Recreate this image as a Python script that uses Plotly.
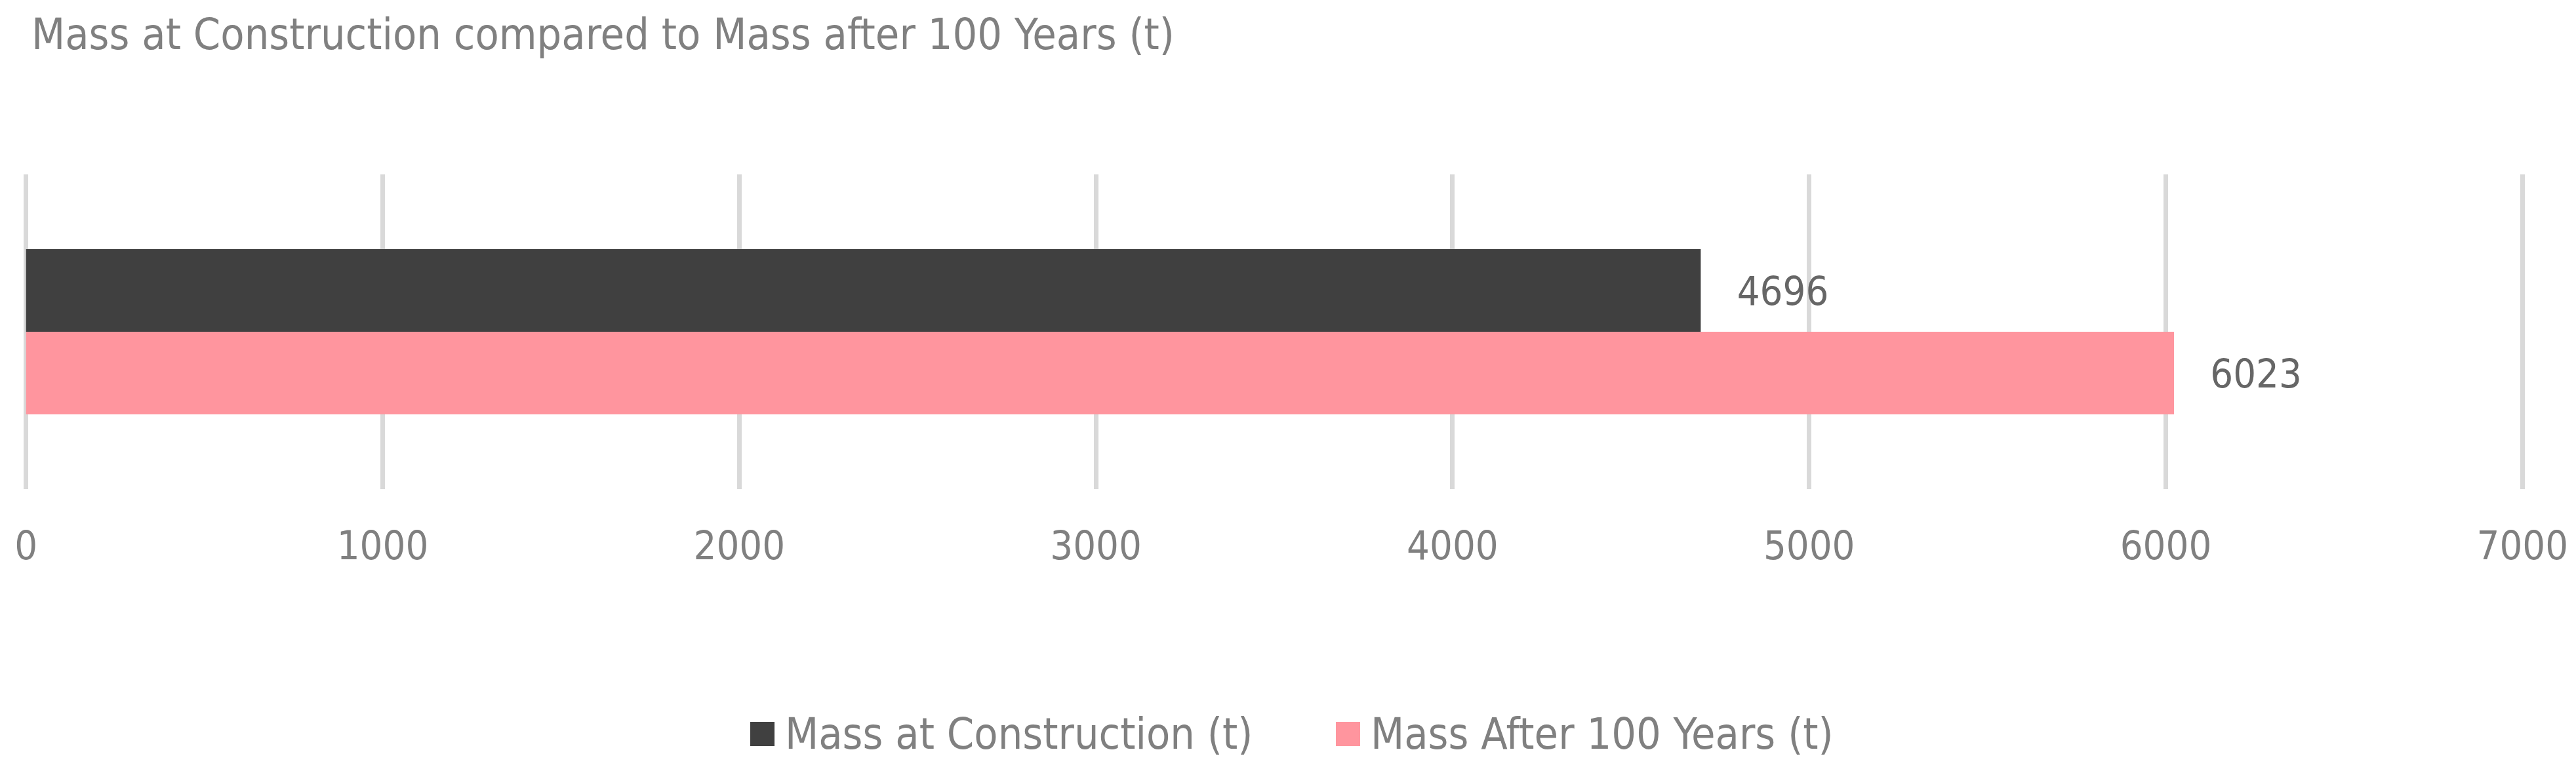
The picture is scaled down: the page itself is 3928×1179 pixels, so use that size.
import plotly.graph_objects as go

# ---- data ----
categories = [""]
series_names = ["Mass at Construction (t)", "Mass After 100 Years (t)"]
mass_construction = [4696]
mass_after_100 = [6023]
series_colors = ["#404040", "#FF959E"]
x_ticks = [0, 1000, 2000, 3000, 4000, 5000, 6000, 7000]

W, H = 3928, 1179
FONT = "DejaVu Sans Condensed, Liberation Sans Narrow, Arial Narrow, sans-serif"
FS_TITLE = 66
FS_TICK = 61
FS_LABEL = 61
ML, MR, MT, MB = 37, 79, 266, 433

fig = go.Figure()
for name, vals, col in zip(series_names, [mass_construction, mass_after_100], series_colors):
    fig.add_trace(go.Bar(
        y=categories, x=vals, orientation="h", name=name,
        marker=dict(color=col, line=dict(width=0)),
        texttemplate="\u00a0\u00a0\u00a0%{x}", textposition="outside",
        textfont=dict(family=FONT, size=FS_LABEL, color="#666666"),
        cliponaxis=False, showlegend=False,
    ))

fig.update_layout(
    width=W, height=H,
    margin=dict(l=ML, r=MR, t=MT, b=MB, pad=0, autoexpand=False),
    paper_bgcolor="white", plot_bgcolor="white",
    barmode="group", bargap=0.475, bargroupgap=0,
    font=dict(family=FONT, size=FS_TICK, color="#808080"),
    title=dict(text="Mass at Construction compared to Mass after 100 Years (t)",
               x=48 / W, xanchor="left", xref="container",
               y=1 - 52 / H, yanchor="middle", yref="container",
               font=dict(family=FONT, size=FS_TITLE, color="#808080")),
    xaxis=dict(range=[-5, 7005], tickvals=x_ticks, ticktext=[str(v) for v in x_ticks],
               showgrid=True, gridcolor="#D9D9D9", gridwidth=7,
               zeroline=False, showline=False, ticks="", automargin=False,
               ticklabelstandoff=45,
               tickfont=dict(family=FONT, size=FS_TICK, color="#808080")),
    yaxis=dict(autorange="reversed", showgrid=False, zeroline=False, automargin=False,
               showline=False, showticklabels=False, ticks=""),
)

# ---- custom legend (large square swatches) ----
def px_x(p):
    return (p - ML) / (W - ML - MR)

def px_y(p):
    return (H - MB - p) / (H - MT - MB)

legend_items = [(series_names[0], series_colors[0], 1144, 1195),
                (series_names[1], series_colors[1], 2037, 2088)]
for name, col, x0, tx in legend_items:
    fig.add_shape(type="rect", xref="paper", yref="paper",
                  x0=px_x(x0), x1=px_x(x0 + 37), y0=px_y(1101), y1=px_y(1138),
                  fillcolor=col, line=dict(width=0))
    fig.add_annotation(xref="paper", yref="paper", x=px_x(tx), y=px_y(1119),
                       text=name, showarrow=False, xanchor="left", yanchor="middle",
                       font=dict(family=FONT, size=FS_TITLE, color="#808080"))

fig.write_html("out.html",
               config={"displayModeBar": False},
               post_script="document.body.style.margin='0';document.body.style.overflow='hidden';")
